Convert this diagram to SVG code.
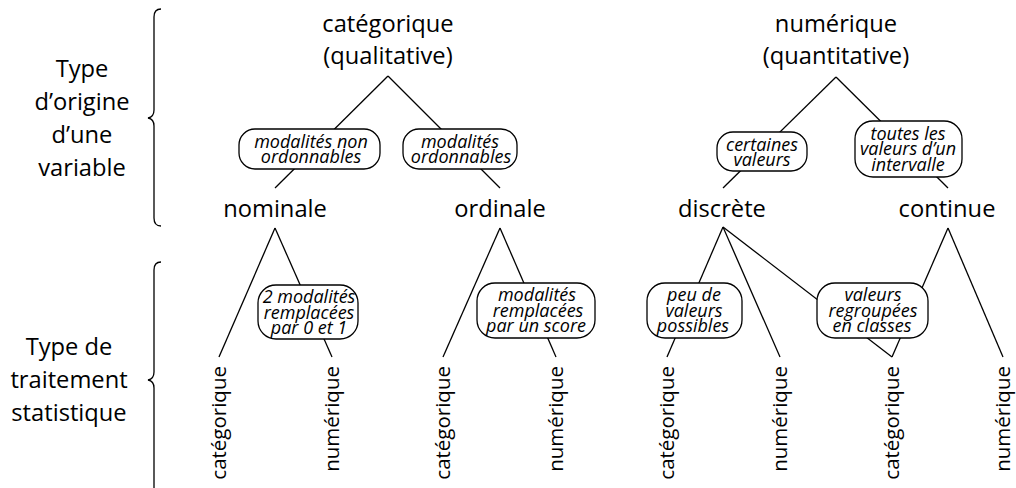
<svg xmlns="http://www.w3.org/2000/svg" width="1016" height="488" viewBox="0 0 1016 488">
<style>
  .t { font-family: "Open Sans", "Liberation Sans", sans-serif; font-size: 23.7px; fill: #000; text-anchor: middle; }
  .v { font-family: "Open Sans", "Liberation Sans", sans-serif; font-size: 20.5px; fill: #000; text-anchor: end; }
  .b { font-family: "Open Sans", "Liberation Sans", sans-serif; font-size: 18px; font-style: italic; fill: #000; text-anchor: middle; }
  .ln { stroke: #000; stroke-width: 1.3; fill: none; }
  .bub { stroke: #000; stroke-width: 1.3; fill: #fff; }
</style>
<rect width="1016" height="488" fill="#fff"/>

<g id="braces">
  <path class="ln" d="M161 9 Q154 9 154 17 L154 110 Q154 117 148 118 Q154 119 154 126 L154 218 Q154 226 161 226"/>
  <path class="ln" d="M161 262 Q154 262 154 270 L154 372 Q154 379 148 380 Q154 381 154 388 L154 490"/>
</g>

<g id="labels-left">
  <text class="t" x="82" y="77">Type</text>
  <text class="t" x="82" y="110">d’origine</text>
  <text class="t" x="82" y="143">d’une</text>
  <text class="t" x="82" y="176">variable</text>
  <text class="t" x="69" y="355">Type de</text>
  <text class="t" x="69" y="388">traitement</text>
  <text class="t" x="69" y="421">statistique</text>
</g>

<g id="connectors">
  <line class="ln" x1="388" y1="76" x2="275" y2="188"/>
  <line class="ln" x1="388" y1="76" x2="500" y2="188"/>
  <line class="ln" x1="836" y1="77" x2="723" y2="188"/>
  <line class="ln" x1="836" y1="77" x2="948" y2="188"/>
  <line class="ln" x1="275" y1="228" x2="219" y2="357"/>
  <line class="ln" x1="275" y1="228" x2="332" y2="357"/>
  <line class="ln" x1="500" y1="228" x2="443" y2="357"/>
  <line class="ln" x1="500" y1="228" x2="556" y2="357"/>
  <line class="ln" x1="723" y1="227" x2="667" y2="357"/>
  <line class="ln" x1="723" y1="227" x2="780" y2="357"/>
  <line class="ln" x1="723" y1="227" x2="892" y2="357"/>
  <line class="ln" x1="948" y1="228" x2="892" y2="357"/>
  <line class="ln" x1="948" y1="228" x2="1003" y2="357"/>
</g>

<g id="root-categorique">
  <text class="t" x="388" y="32">catégorique</text>
  <text class="t" x="388" y="64">(qualitative)</text>
</g>
<g id="root-numerique">
  <text class="t" x="836" y="32">numérique</text>
  <text class="t" x="836" y="64">(quantitative)</text>
</g>

<g id="bubble-non-ordonnables">
  <rect class="bub" x="239" y="129" width="141" height="40" rx="16"/>
  <text class="b" x="311" y="148">modalités non</text>
  <text class="b" x="311" y="163">ordonnables</text>
</g>
<g id="bubble-ordonnables">
  <rect class="bub" x="403" y="129" width="114" height="40" rx="16"/>
  <text class="b" x="460" y="148">modalités</text>
  <text class="b" x="461" y="163">ordonnables</text>
</g>
<g id="bubble-certaines">
  <rect class="bub" x="717" y="132" width="90" height="39" rx="16"/>
  <text class="b" x="762" y="151">certaines</text>
  <text class="b" x="762" y="166">valeurs</text>
</g>
<g id="bubble-toutes">
  <rect class="bub" x="855" y="121" width="107" height="56" rx="18"/>
  <text class="b" x="908" y="139.5">toutes les</text>
  <text class="b" x="908" y="155">valeurs d’un</text>
  <text class="b" x="908" y="170.5">intervalle</text>
</g>

<g id="nominale"><text class="t" x="275" y="217">nominale</text></g>
<g id="ordinale"><text class="t" x="500" y="217">ordinale</text></g>
<g id="discrete"><text class="t" x="722" y="217">discrète</text></g>
<g id="continue"><text class="t" x="947" y="217">continue</text></g>

<g id="bubble-2-modalites">
  <rect class="bub" x="258" y="285" width="100" height="54" rx="18"/>
  <text class="b" x="309" y="303">2 modalités</text>
  <text class="b" x="309" y="318.5">remplacées</text>
  <text class="b" x="309" y="334">par 0 et 1</text>
</g>
<g id="bubble-score">
  <rect class="bub" x="477" y="283" width="118" height="55" rx="18"/>
  <text class="b" x="537" y="301">modalités</text>
  <text class="b" x="538" y="316.5">remplacées</text>
  <text class="b" x="536" y="332">par un score</text>
</g>
<g id="bubble-peu">
  <rect class="bub" x="647" y="283" width="95" height="55" rx="18"/>
  <text class="b" x="694" y="301">peu de</text>
  <text class="b" x="694" y="316.5">valeurs</text>
  <text class="b" x="693" y="332">possibles</text>
</g>
<g id="bubble-classes">
  <rect class="bub" x="817" y="283" width="111" height="55" rx="18"/>
  <text class="b" x="873" y="301">valeurs</text>
  <text class="b" x="873" y="316.5">regroupées</text>
  <text class="b" x="872" y="332">en classes</text>
</g>

<g id="leaf-1"><text class="v" transform="translate(226 366) rotate(-90)">catégorique</text></g>
<g id="leaf-2"><text class="v" transform="translate(339 366) rotate(-90)">numérique</text></g>
<g id="leaf-3"><text class="v" transform="translate(450 366) rotate(-90)">catégorique</text></g>
<g id="leaf-4"><text class="v" transform="translate(563 366) rotate(-90)">numérique</text></g>
<g id="leaf-5"><text class="v" transform="translate(674 366) rotate(-90)">catégorique</text></g>
<g id="leaf-6"><text class="v" transform="translate(787 366) rotate(-90)">numérique</text></g>
<g id="leaf-7"><text class="v" transform="translate(899 366) rotate(-90)">catégorique</text></g>
<g id="leaf-8"><text class="v" transform="translate(1010 366) rotate(-90)">numérique</text></g>
</svg>
